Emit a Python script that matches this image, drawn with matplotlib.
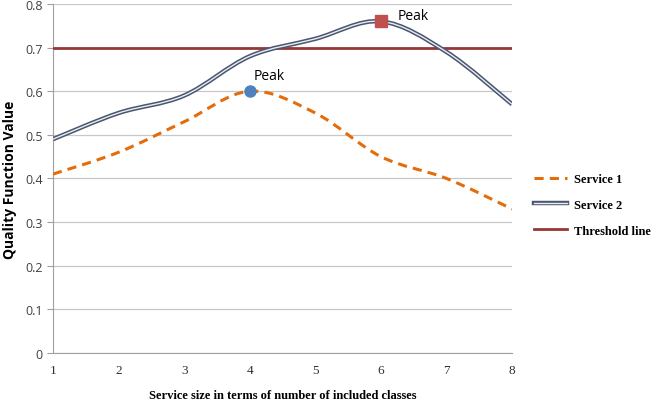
import numpy as np
import matplotlib.pyplot as plt
from matplotlib.path import Path
from matplotlib.patches import PathPatch
from matplotlib.lines import Line2D
import matplotlib.patheffects as pe

# service sizes and quality values
sizes = [1, 2, 3, 4, 5, 6, 7, 8]
service1 = [0.41, 0.46, 0.53, 0.60, 0.55, 0.45, 0.40, 0.33]
service2 = [0.49, 0.55, 0.59, 0.68, 0.72, 0.76, 0.69, 0.57]
threshold = 0.7
peak1 = (4, 0.60)
peak2 = (6, 0.76)


def smooth_path(xs, ys):
    # cubic bezier through every point, tangents from neighbours (spreadsheet-style smoothing)
    pts = np.column_stack([xs, ys]).astype(float)
    n = len(pts)
    verts = [pts[0]]
    codes = [Path.MOVETO]
    for i in range(n - 1):
        p0 = pts[i - 1] if i > 0 else pts[i]
        p1 = pts[i]
        p2 = pts[i + 1]
        p3 = pts[i + 2] if i + 2 < n else pts[i + 1]
        c1 = p1 + (p2 - p0) / 6.0
        c2 = p2 - (p3 - p1) / 6.0
        verts += [c1, c2, p2]
        codes += [Path.CURVE4] * 3
    return Path(verts, codes)


fig = plt.figure(figsize=(6.54, 4.10), dpi=100)
ax = fig.add_axes([0.081, 0.1366, 0.702, 0.8514])

ax.set_xlim(1, 8)
ax.set_ylim(0, 0.8)
ax.set_yticks(np.arange(0, 0.81, 0.1))
ax.set_yticklabels(['0'] + ['%.1f' % v for v in np.arange(0.1, 0.81, 0.1)])
ax.set_xticks(sizes)
ax.grid(axis='y', color='#c8c8c8', lw=0.9)
ax.set_axisbelow(True)
for s in ['top', 'right']:
    ax.spines[s].set_visible(False)
for s in ['left', 'bottom']:
    ax.spines[s].set_color('#a0a0a0')
ax.tick_params(axis='y', length=4, color='#a0a0a0', labelsize=9, labelcolor='#404040')
ax.tick_params(axis='x', length=0, pad=8, labelsize=9.5, labelcolor='#303030')
for lab in ax.get_yticklabels():
    lab.set_family('Open Sans')
for lab in ax.get_xticklabels():
    lab.set_family('Liberation Serif')

# threshold
ax.axhline(threshold, color='#953735', lw=2, zorder=3)

# service 1 - dashed orange
p1 = PathPatch(smooth_path(sizes, service1), fill=False, ec='#e46c0a', lw=2.2,
               ls=(0, (3, 2)), zorder=4)
ax.add_patch(p1)

# service 2 - double line
p2 = PathPatch(smooth_path(sizes, service2), fill=False, ec='#4a5670', lw=3.2, zorder=4)
ax.add_patch(p2)
p2b = PathPatch(smooth_path(sizes, service2), fill=False, ec='#e8ecf4', lw=1.0, zorder=4)
ax.add_patch(p2b)

# peaks
ax.plot(*peak1, 'o', color='#4f81bd', ms=8, zorder=5)
ax.plot(*peak2, 's', color='#c0504d', ms=9, zorder=5)
ax.annotate('Peak', peak1, xytext=(3, 6), textcoords='offset points',
            fontsize=10, family='Open Sans', ha='left', va='bottom')
ax.annotate('Peak', peak2, xytext=(12, 4), textcoords='offset points',
            fontsize=10, family='Open Sans', ha='left', va='center')

ax.set_xlabel('Service size in terms of number of included classes',
              family='Liberation Serif', weight='bold', fontsize=9, labelpad=9)
ax.set_ylabel('Quality Function Value', family='Open Sans', weight='bold',
              fontsize=10, labelpad=6)

handles = [
    Line2D([], [], color='#e46c0a', lw=2.2, ls=(0, (3, 2))),
    Line2D([], [], color='#e8ecf4', lw=1.0,
           path_effects=[pe.Stroke(linewidth=3.2, foreground='#4a5670'), pe.Normal()]),
    Line2D([], [], color='#953735', lw=2),
]
fig.legend(handles, ['Service 1', 'Service 2', 'Threshold line'],
           loc='center left', bbox_to_anchor=(0.816, 0.498), frameon=False,
           borderpad=0, borderaxespad=0,
           prop={'family': 'Liberation Serif', 'weight': 'bold', 'size': 9},
           handlelength=2.7, labelspacing=1.1, handletextpad=0.5)

fig.savefig('out.png', dpi=100)
